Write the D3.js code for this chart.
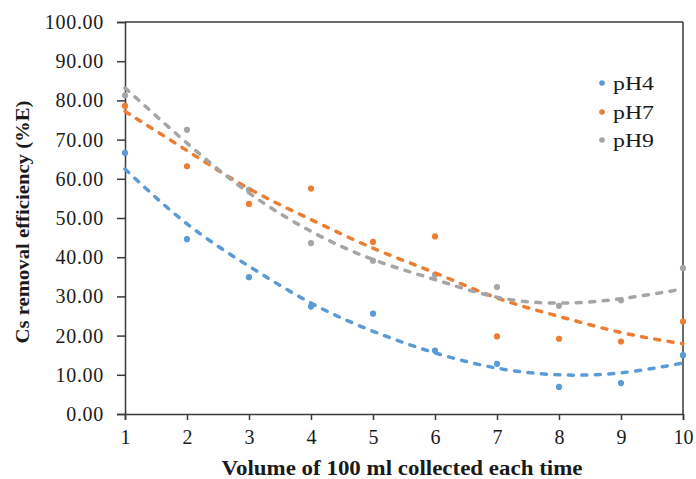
<!DOCTYPE html>
<html>
<head>
<meta charset="utf-8">
<script src="https://cdn.jsdelivr.net/npm/d3@7"></script>
<style>
html,body{margin:0;padding:0;background:#fff;}
svg{display:block;}
text{font-family:"Liberation Serif","Times New Roman",serif;fill:#1a1a1a;}
</style>
</head>
<body>
<svg id="chart" width="696" height="479"></svg>
<script>
// ---- data ----
const volumes = [1,2,3,4,5,6,7,8,9,10];
const seriesNames = ["pH4","pH7","pH9"];
const pH4 = [66.6,44.6,34.9,27.4,25.6,16.2,12.8,6.9,7.9,15.0];
const pH7 = [78.6,63.2,53.6,57.5,43.9,45.3,19.8,19.2,18.5,23.6];
const pH9 = [81.3,72.5,57.2,43.6,39.1,35.5,32.4,27.6,29.0,37.2];
// polynomial trendlines (values at each volume)
const trend4 = [62.5,48.5,37.7,28.3,21.1,15.6,11.7,10.0,10.5,13.0];
const trend7 = [77.2,67.2,57.5,49.6,42.3,36.0,29.6,24.9,20.8,17.9];
const trend9 = [83.2,69.1,56.4,46.6,39.4,34.3,29.8,28.3,29.4,31.9];
const yTicks = [0,10,20,30,40,50,60,70,80,90,100];
const xTicks = [1,2,3,4,5,6,7,8,9,10];
const colors = ["#5B9BD5","#ED7D31","#A5A5A5"];

const svg = d3.select("#chart");
const mLeft = 125, mRight = 683, mTop = 22, mBottom = 414;
const x = d3.scaleLinear().domain([1,10]).range([mLeft,mRight]);
const y = d3.scaleLinear().domain([0,100]).range([mBottom,mTop]);

const axisColor = "#3a3a3a";

// box top and right
svg.append("line").attr("x1",mLeft).attr("x2",mRight).attr("y1",mTop).attr("y2",mTop)
  .attr("stroke",axisColor).attr("stroke-width",1.5);
svg.append("line").attr("x1",mRight).attr("x2",mRight).attr("y1",mTop).attr("y2",mBottom)
  .attr("stroke",axisColor).attr("stroke-width",1.5);

// y axis
const yAxis = svg.append("g").attr("transform",`translate(${mLeft},0)`)
  .call(d3.axisLeft(y).tickValues(yTicks).tickFormat(d3.format(".2f")).tickSize(8).tickPadding(13));
yAxis.select(".domain").attr("stroke",axisColor).attr("stroke-width",1.5);
yAxis.selectAll(".tick line").attr("stroke",axisColor).attr("stroke-width",1.5);
yAxis.selectAll("text").attr("font-size",20).attr("font-family","Liberation Serif").attr("fill","#1a1a1a")
  .attr("letter-spacing","0.7px");

// x axis
const xAxis = svg.append("g").attr("transform",`translate(0,${mBottom})`)
  .call(d3.axisBottom(x).tickValues(xTicks).tickFormat(d3.format("d")).tickSize(6).tickPadding(10));
xAxis.select(".domain").attr("stroke",axisColor).attr("stroke-width",1.5);
xAxis.selectAll(".tick line").attr("stroke",axisColor).attr("stroke-width",1.5);
xAxis.selectAll("text").attr("font-size",20).attr("font-family","Liberation Serif").attr("fill","#1a1a1a");

// axis titles
svg.append("text").attr("transform","translate(29,222) rotate(-90)")
  .attr("text-anchor","middle").attr("font-weight","bold").attr("font-size",18)
  .attr("textLength",243).attr("lengthAdjust","spacingAndGlyphs")
  .text("Cs removal efficiency (%E)");
svg.append("text").attr("x",402).attr("y",475)
  .attr("text-anchor","middle").attr("font-weight","bold").attr("font-size",20)
  .attr("textLength",361).attr("lengthAdjust","spacingAndGlyphs")
  .text("Volume of 100 ml collected each time");

const data = [pH4,pH7,pH9];
const trends = [trend4,trend7,trend9];

const line = d3.line().x((d,i)=>x(volumes[i])).y(d=>y(d)).curve(d3.curveNatural);

// points
data.forEach((vals,k)=>{
  svg.append("g").selectAll("circle").data(vals).join("circle")
    .attr("cx",(d,i)=>x(volumes[i])).attr("cy",d=>y(d)).attr("r",3.1)
    .attr("fill",colors[k]);
});
// trendlines
trends.forEach((vals,k)=>{
  svg.append("path").datum(vals).attr("d",line)
    .attr("fill","none").attr("stroke",colors[k]).attr("stroke-width",3.5)
    .attr("stroke-linecap","round").attr("stroke-dasharray","5,8.5");
});

// legend
const legY = [83,112,140];
seriesNames.forEach((n,k)=>{
  svg.append("circle").attr("cx",602).attr("cy",legY[k]).attr("r",2.8).attr("fill",colors[k]);
  svg.append("text").attr("x",613).attr("y",legY[k]+7).attr("font-size",18)
    .attr("textLength",41).attr("lengthAdjust","spacingAndGlyphs").text(n);
});
</script>
</body>
</html>
